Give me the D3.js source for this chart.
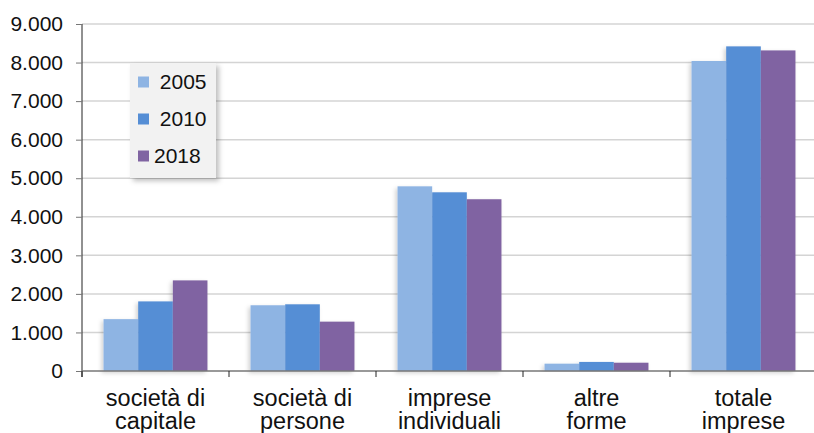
<!DOCTYPE html>
<html>
<head>
<meta charset="utf-8">
<script src="https://cdn.jsdelivr.net/npm/d3@7"></script>
<style>
  body { margin: 0; background: #fff; }
  svg { display: block; font-family: "Liberation Sans", Arial, sans-serif; }
</style>
</head>
<body>
<div id="chart"></div>
<script>
// dati
const categories = [["società di", "capitale"], ["società di", "persone"], ["imprese", "individuali"], ["altre", "forme"], ["totale", "imprese"]];
const years = ["2005", "2010", "2018"];
const legendLabels = [" 2005", " 2010", "2018"];
const v2005 = [1345, 1705, 4790, 190, 8040];
const v2010 = [1805, 1730, 4635, 235, 8420];
const v2018 = [2350, 1280, 4455, 215, 8315];
const yTicks = [0, 1000, 2000, 3000, 4000, 5000, 6000, 7000, 8000, 9000];

const width = 814, height = 433;
const margin = {top: 24, right: -3, bottom: 62, left: 82};
const innerWidth = width - margin.left - margin.right;
const innerHeight = height - margin.top - margin.bottom;

const series = [v2005, v2010, v2018];
const data = categories.map((c, i) => ({cat: c.join(" "), lines: c, vals: series.map(s => s[i])}));

const svg = d3.select("#chart").append("svg")
  .attr("width", width).attr("height", height);

const defs = svg.append("defs");
defs.append("filter").attr("id", "shadow").attr("x", "-20%").attr("y", "-5%").attr("width", "140%").attr("height", "115%")
  .append("feDropShadow").attr("dx", -2).attr("dy", 2).attr("stdDeviation", 2)
  .attr("flood-color", "#000").attr("flood-opacity", 0.18);
defs.append("filter").attr("id", "lshadow").attr("x", "-20%").attr("y", "-20%").attr("width", "140%").attr("height", "140%")
  .append("feDropShadow").attr("dx", 3).attr("dy", 3).attr("stdDeviation", 2.5)
  .attr("flood-color", "#000").attr("flood-opacity", 0.25);

const g = svg.append("g").attr("transform", `translate(${margin.left},${margin.top})`);

const x0 = d3.scaleBand().domain(data.map(d => d.cat))
  .range([0, innerWidth]).paddingInner(0.293).paddingOuter(0.1465);
const x1 = d3.scaleBand().domain(years).range([0, x0.bandwidth()]);
const y = d3.scaleLinear().domain([0, 9000]).range([innerHeight, 0]);
const color = d3.scaleOrdinal().domain(years).range(["#8EB4E3", "#558ED5", "#8064A2"]);

// griglia
g.append("g")
  .selectAll("line").data(yTicks.slice(1)).join("line")
    .attr("x1", 0).attr("x2", innerWidth)
    .attr("y1", d => y(d)).attr("y2", d => y(d))
    .attr("stroke", "#d4d4d4").attr("stroke-width", 1.5);

// barre
const groups = g.append("g").selectAll("g").data(data).join("g")
  .attr("transform", d => `translate(${x0(d.cat)},0)`)
  .attr("filter", "url(#shadow)");
groups.selectAll("rect").data(d => d.vals.map((v, i) => ({year: years[i], v}))).join("rect")
  .attr("x", d => x1(d.year))
  .attr("width", x1.bandwidth())
  .attr("y", d => y(d.v))
  .attr("height", d => y(0) - y(d.v))
  .attr("fill", d => color(d.year));

// asse y
const yAxis = g.append("g")
  .call(d3.axisLeft(y).tickValues(yTicks).tickSize(6).tickPadding(13)
    .tickFormat(d => d3.format(",")(d).replace(/,/g, ".")));
yAxis.select(".domain").attr("d", `M0,0V${innerHeight + 6}`).attr("stroke", "#222");
yAxis.selectAll(".tick line").attr("stroke", "#777");
yAxis.selectAll("text").style("font-size", "21px").attr("fill", "#111");

// asse x
const xAxis = g.append("g").attr("transform", `translate(0,${innerHeight})`);
xAxis.append("line").attr("x1", 0).attr("x2", innerWidth).attr("stroke", "#777").attr("stroke-width", 1.5);
const bounds = x0.domain().map(c => x0(c) - x0.step() * x0.paddingInner() / 2);
xAxis.selectAll(".ctick").data(bounds.concat([innerWidth])).join("line")
  .attr("class", "ctick")
  .attr("x1", d => d).attr("x2", d => d).attr("y1", 0).attr("y2", 6)
  .attr("stroke", "#222");
const lbl = xAxis.selectAll(".clabel").data(data).join("text")
  .attr("class", "clabel")
  .attr("text-anchor", "middle")
  .attr("x", d => x0(d.cat) + x0.bandwidth() / 2)
  .style("font-size", "23.5px").attr("fill", "#111");
lbl.selectAll("tspan").data(d => d.lines).join("tspan")
  .attr("x", function() { return d3.select(this.parentNode).attr("x"); })
  .attr("y", (d, i) => 35 + i * 22.5)
  .text(d => d);

// legenda
const legend = svg.append("g").attr("transform", "translate(130,63)");
legend.append("rect").attr("width", 86).attr("height", 115)
  .attr("fill", "#f2f2f2").attr("filter", "url(#lshadow)");
years.forEach((k, i) => {
  const yy = 19 + i * 37;
  legend.append("rect").attr("x", 8).attr("y", yy - 5.5).attr("width", 11).attr("height", 11)
    .attr("fill", color(k));
  legend.append("text").attr("x", 24).attr("y", yy + 7)
    .style("font-size", "21px").style("white-space", "pre").attr("fill", "#111")
    .text(legendLabels[i]);
});
</script>
</body>
</html>
